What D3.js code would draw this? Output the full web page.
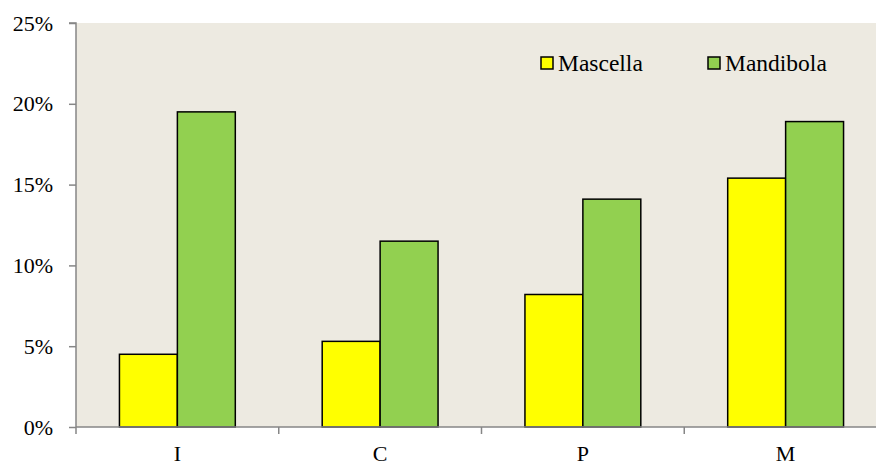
<!DOCTYPE html>
<html>
<head>
    <meta charset="utf-8">
    <title>Mascella / Mandibola</title>
    <script src="https://d3js.org/d3.v7.min.js"></script>
    <style type="text/css">
        body { margin: 0; background: #ffffff; }
        svg { display: block; font-family: "Liberation Serif", "Times New Roman", serif; }
        .axis path, .axis line { stroke: #868686; stroke-width: 1.5; }
        .axis text { font-size: 22px; fill: #000; font-family: "Liberation Serif", serif; }
        .bar { stroke: #000; stroke-width: 1.5; }
    </style>
</head>
<body>
<div id="chart"></div>
<script>
// data
var categories = ["I", "C", "P", "M"]
var seriesNames = ["Mascella", "Mandibola"]
var mascella = [4.5, 5.3, 8.2, 15.4]
var mandibola = [19.5, 11.5, 14.1, 18.9]
var yTicks = [0, 5, 10, 15, 20, 25]
var colors = ["#ffff00", "#92d050"]

var width = 876, height = 463
var margin = {top: 23, left: 76, right: -11, bottom: 36}
var plotW = width - margin.left - margin.right
var plotH = height - margin.top - margin.bottom

var svg = d3.select("#chart").append("svg")
    .attr("width", width)
    .attr("height", height)

var g = svg.append("g")
    .attr("transform", "translate(" + margin.left + "," + margin.top + ")")

g.append("rect")
    .attr("width", plotW)
    .attr("height", plotH)
    .attr("fill", "#edeae1")

var x = d3.scaleBand().domain(categories).range([0, plotW])
// gap width 150% -> bars take 2/(2+1.5) of a band
var inner = d3.scaleBand().domain(seriesNames)
    .range([x.bandwidth() * 0.75 / 3.5, x.bandwidth() * (1 - 0.75 / 3.5)])
var y = d3.scaleLinear().domain([0, 25]).range([plotH, 0])

var rows = categories.map(function(c, i) {
    return {cat: c, values: [mascella[i], mandibola[i]]}
})

var groups = g.selectAll(".grp")
    .data(rows)
    .enter().append("g")
    .attr("class", "grp")
    .attr("transform", function(d) { return "translate(" + x(d.cat) + ",0)" })

groups.selectAll("rect")
    .data(function(d) { return d.values.map(function(v, j) { return {name: seriesNames[j], v: v, j: j} }) })
    .enter().append("rect")
    .attr("class", "bar")
    .attr("x", function(d) { return inner(d.name) })
    .attr("width", inner.bandwidth())
    .attr("y", function(d) { return y(d.v) })
    .attr("height", function(d) { return plotH - y(d.v) })
    .attr("fill", function(d) { return colors[d.j] })

// y axis
var yAxis = g.append("g").attr("class", "axis")
    .call(d3.axisLeft(y).tickValues(yTicks).tickSize(7).tickPadding(16)
        .tickFormat(function(d) { return d + "%" }))
yAxis.select(".domain").attr("d", "M0," + plotH + "V0H-7")

// x axis: ticks on category boundaries
var xAxis = g.append("g").attr("class", "axis")
    .attr("transform", "translate(0," + plotH + ")")
xAxis.append("line").attr("x1", 0).attr("x2", plotW).attr("y1", 0).attr("y2", 0)
xAxis.selectAll(".tk")
    .data(categories)
    .enter().append("line")
    .attr("class", "tk")
    .attr("x1", function(d) { return x(d) }).attr("x2", function(d) { return x(d) })
    .attr("y1", 0).attr("y2", 7)
xAxis.selectAll("text")
    .data(categories)
    .enter().append("text")
    .attr("x", function(d) { return x(d) + x.bandwidth() / 2 })
    .attr("y", 34)
    .attr("text-anchor", "middle")
    .text(function(d) { return d })

// legend
var legendX = [465, 632]
var legend = g.selectAll(".leg")
    .data(seriesNames)
    .enter().append("g")
    .attr("class", "leg")
    .attr("transform", function(d, i) { return "translate(" + legendX[i] + ",34)" })
legend.append("rect")
    .attr("width", 12).attr("height", 12)
    .attr("fill", function(d, i) { return colors[i] })
    .attr("stroke", "#000").attr("stroke-width", 1.5)
legend.append("text")
    .attr("x", 17).attr("y", 13.5)
    .attr("font-size", 23.5)
    .text(function(d) { return d })
</script>
</body>
</html>
